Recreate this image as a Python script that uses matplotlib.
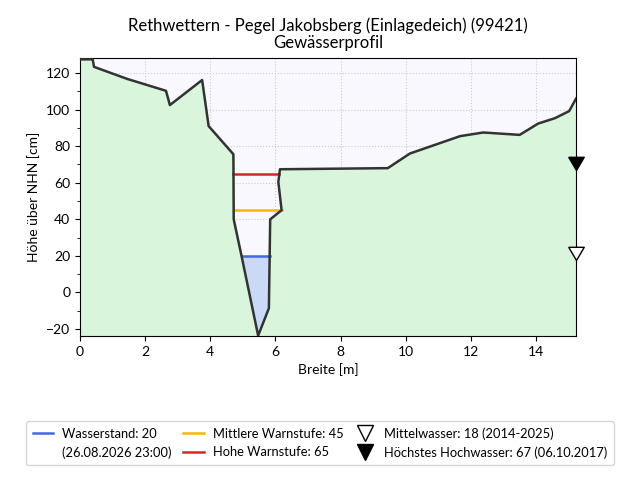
import matplotlib
matplotlib.use("Agg")
import matplotlib.pyplot as plt
from matplotlib.lines import Line2D
import numpy as np

plt.rcParams['font.family'] = ['Lato', 'DejaVu Sans']

# Profile data (Breite [m], Höhe [cm])
profile_x = [0.0, 0.39, 0.43, 1.45, 2.64, 2.76, 3.75, 3.95, 4.71, 4.72, 4.96, 5.47,
             5.80, 5.84, 6.19, 6.09, 6.14, 9.45, 10.13, 11.67, 12.38, 13.50, 14.07,
             14.58, 15.02, 15.23]
profile_y = [127.5, 127.5, 123.4, 116.8, 110.3, 102.5, 116.2, 91.0, 75.6, 40.0, 20.0, -23.6,
             -8.6, 40.0, 45.0, 60.5, 67.4, 68.0, 76.0, 85.5, 87.5, 86.2, 92.4,
             95.3, 99.2, 106.0]

water_level = 20
mid_warn = 45
high_warn = 65
mittelwasser = 18
hhw = 67

labels = {
    'ws': 'Wasserstand: 20',
    'ws_date': '(26.08.2026 23:00)',
    'mid': 'Mittlere Warnstufe: 45',
    'high': 'Hohe Warnstufe: 65',
    'mw': 'Mittelwasser: 18 (2014-2025)',
    'hhw': 'Höchstes Hochwasser: 67 (06.10.2017)',
}

px = np.array(profile_x)
py = np.array(profile_y)
imin = int(np.argmin(py))


def crossings(level):
    i = imin
    while i > 0 and py[i - 1] < level:
        i -= 1
    x0, y0, x1, y1 = px[i - 1], py[i - 1], px[i], py[i]
    xl = x0 + (level - y0) * (x1 - x0) / (y1 - y0)
    il = i
    j = imin
    while j < len(py) - 1 and py[j + 1] < level:
        j += 1
    x0, y0, x1, y1 = px[j], py[j], px[j + 1], py[j + 1]
    xr = x0 + (level - y0) * (x1 - x0) / (y1 - y0)
    return xl, xr, il, j


ymin, ymax = -23.8, 128.2

fig = plt.figure(figsize=(6.4, 4.8), dpi=100)
ax = fig.add_axes([0.125, 0.3, 0.775, 0.579])
ax.set_facecolor('#f8f8fe')

ax.fill_between(px, py, ymin, color='#d9f5dc', zorder=1)

# water
xl, xr, il, ir = crossings(water_level)
wx = np.concatenate([[xl], px[il:ir + 1], [xr]])
wy = np.concatenate([[water_level], py[il:ir + 1], [water_level]])
ax.fill(wx, wy, color='#cad9f6', zorder=2, lw=0)
ax.plot([xl, xr], [water_level, water_level], color='#4169e1', lw=1.8, zorder=3)

xl, xr, _, _ = crossings(mid_warn)
ax.plot([xl, xr], [mid_warn, mid_warn], color='#f5b800', lw=1.8, zorder=3)
xl, xr, _, _ = crossings(high_warn)
ax.plot([xl, xr], [high_warn, high_warn], color='#d62728', lw=1.8, zorder=3)

ax.plot(px, py, color='#333333', lw=1.8, zorder=4)

tri = [(-1, 1.7), (1, 1.7), (0, 0), (-1, 1.7)]
ax.plot([px[-1]], [mittelwasser], marker=tri, ms=19, mfc='white', mec='black',
        mew=1.0, ls='none', clip_on=False, zorder=6)
ax.plot([px[-1]], [hhw], marker=tri, ms=19, mfc='black', mec='black',
        mew=1.0, ls='none', clip_on=False, zorder=6)

ax.set_xlim(0, px[-1])
ax.set_ylim(ymin, ymax)
ax.set_xticks(np.arange(0, 15, 2))
ax.set_yticks(np.arange(-20, 121, 20))
ax.set_yticks(np.arange(-20, 128, 10), minor=True)
ax.grid(True, which='major', color='#cccccc', ls=':', lw=0.8)
ax.set_axisbelow(True)
ax.tick_params(labelsize=10)
ax.set_xlabel('Breite [m]', fontsize=10)
ax.set_ylabel('Höhe über NHN [cm]', fontsize=10)
ax.set_title('Rethwettern - Pegel Jakobsberg (Einlagedeich) (99421)\nGewässerprofil',
             fontsize=12, linespacing=1.1, pad=7)

handles = [
    Line2D([], [], color='#4169e1', lw=1.8),
    Line2D([], [], color='none'),
    Line2D([], [], color='#f5b800', lw=1.8),
    Line2D([], [], color='#d62728', lw=1.8),
    Line2D([], [], marker='v', ms=11, mfc='white', mec='black', ls='none'),
    Line2D([], [], marker='v', ms=11, mfc='black', mec='black', ls='none'),
]
leg_labels = [labels['ws'], labels['ws_date'], labels['mid'], labels['high'],
              labels['mw'], labels['hhw']]
fig.legend(handles, leg_labels, loc='lower center', bbox_to_anchor=(0.5, 0.017),
           ncol=3, fontsize=9.3, handlelength=1.6, columnspacing=0.85,
           handletextpad=0.7, borderpad=0.5, labelspacing=0.5)

fig.savefig('out.png', dpi=100)
